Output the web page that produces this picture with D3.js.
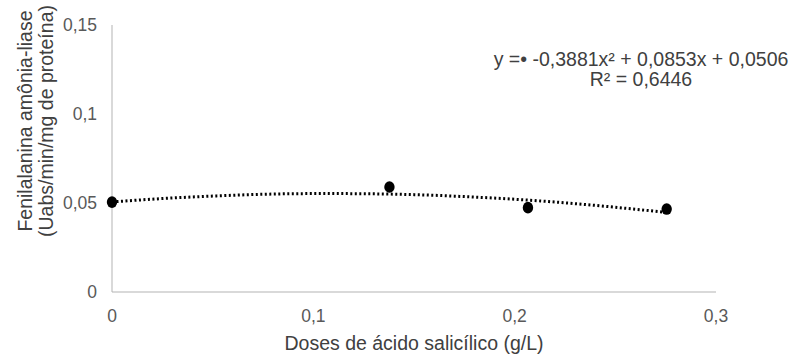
<!DOCTYPE html>
<html>
<head>
<meta charset="utf-8">
<script src="https://cdn.jsdelivr.net/npm/d3@7"></script>
<style>
  body { margin: 0; background: #fff; }
  text { font-family: "Liberation Sans", Arial, sans-serif; }
</style>
</head>
<body>
<div id="chart"></div>
<script>
// observed points
const doses = [0, 0.1378, 0.2066, 0.2755];
const palValues = [0.0505, 0.059, 0.0474, 0.0466];

// trend line
const trendX = [0, 0.025, 0.05, 0.075, 0.1, 0.125, 0.15, 0.175, 0.2, 0.225, 0.25, 0.2755];
const trendY = [0.0506, 0.0525, 0.0539, 0.0549, 0.0553, 0.0552, 0.0547, 0.0536, 0.0521, 0.0501, 0.0476, 0.0447];

const xTicks = [0, 0.1, 0.2, 0.3];
const yTicks = [0, 0.05, 0.1, 0.15];
const equationLines = ['y =\u2022 -0,3881x\u00b2 + 0,0853x + 0,0506', 'R\u00b2 = 0,6446'];
const yTitleLines = ['Fenilalanina am\u00f4nia-liase', '(Uabs/min/mg de prote\u00edna)'];
const xTitle = 'Doses de \u00e1cido salic\u00edlico (g/L)';

const width = 793, height = 356;
const fmt = d => String(d).replace('.', ',');

const svg = d3.select('#chart').append('svg').attr('width', width).attr('height', height);

const x = d3.scaleLinear().domain([0, 0.3]).range([112, 716]);
const y = d3.scaleLinear().domain([0, 0.15]).range([292, 25]);

// axis lines
svg.append('line')
  .attr('x1', x(0)).attr('x2', x(0)).attr('y1', y(0.15)).attr('y2', y(0))
  .attr('stroke', '#b3b3b3').attr('stroke-width', 1);
svg.append('line')
  .attr('x1', x(0)).attr('x2', x(0.3)).attr('y1', y(0)).attr('y2', y(0))
  .attr('stroke', '#b3b3b3').attr('stroke-width', 1);

// tick labels
svg.append('g').selectAll('text')
  .data(yTicks).enter().append('text')
  .attr('x', 97).attr('y', d => y(d)).attr('dy', '0.35em')
  .attr('text-anchor', 'end').attr('font-size', 17.5).attr('fill', '#595959')
  .text(fmt);

svg.append('g').selectAll('text')
  .data(xTicks).enter().append('text')
  .attr('x', d => x(d)).attr('y', 316).attr('dy', '0.35em')
  .attr('text-anchor', 'middle').attr('font-size', 17.5).attr('fill', '#595959')
  .text(fmt);

// titles
svg.append('text')
  .attr('x', (x(0) + x(0.3)) / 2).attr('y', 343).attr('dy', '0.35em')
  .attr('text-anchor', 'middle').attr('font-size', 19.5).attr('fill', '#404040')
  .text(xTitle);

svg.append('g').selectAll('text')
  .data(yTitleLines).enter().append('text')
  .attr('transform', (d, i) => 'translate(' + (25 + i * 21) + ',121) rotate(-90)')
  .attr('dy', '0.35em')
  .attr('text-anchor', 'middle').attr('font-size', 19.5).attr('fill', '#404040')
  .text(d => d);

// trend line (dotted)
const trend = d3.line()
  .x((d, i) => x(trendX[i]))
  .y(d => y(d))
  .curve(d3.curveNatural);

svg.append('path')
  .attr('d', trend(trendY))
  .attr('fill', 'none')
  .attr('stroke', '#000')
  .attr('stroke-width', 3)
  .attr('stroke-dasharray', '2,2.5');

// points
svg.append('g').selectAll('ellipse')
  .data(palValues).enter().append('ellipse')
  .attr('cx', (d, i) => x(doses[i]))
  .attr('cy', d => y(d))
  .attr('rx', 5.2).attr('ry', 5.8)
  .attr('fill', '#000');

// equation
svg.append('g').selectAll('text')
  .data(equationLines).enter().append('text')
  .attr('x', 641).attr('y', (d, i) => 59 + i * 20).attr('dy', '0.35em')
  .attr('text-anchor', 'middle').attr('font-size', 19.5).attr('fill', '#404040')
  .text(d => d);
</script>
</body>
</html>
